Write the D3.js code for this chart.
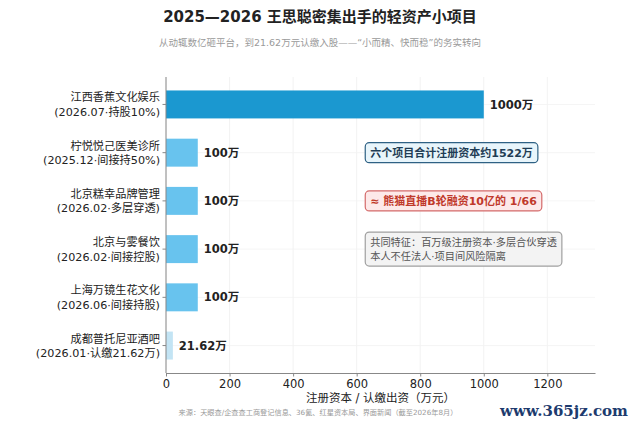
<!DOCTYPE html>
<html>
<head>
<meta charset="utf-8">
<script src="https://cdn.jsdelivr.net/npm/d3@7"></script>
<style>
  html, body { margin: 0; padding: 0; background: #fff; }
  svg text { font-family: "DejaVu Sans", "Noto Sans CJK SC", sans-serif; }
</style>
</head>
<body>
<div id="container"></div>
<script>
// data
var names = ["江西香蕉文化娱乐", "柠悦悦己医美诊所", "北京糕幸品牌管理", "北京与雾餐饮", "上海万镜生花文化", "成都普托尼亚酒吧"];
var details = ["(2026.07·持股10%)", "(2025.12·间接持50%)", "(2026.02·多层穿透)", "(2026.02·间接控股)", "(2026.06·间接持股)", "(2026.01·认缴21.62万)"];
var capital = [1000, 100, 100, 100, 100, 21.62];
var valueLabels = ["1000万", "100万", "100万", "100万", "100万", "21.62万"];
var xTicks = [0, 200, 400, 600, 800, 1000, 1200];
var notes = [
  { row: 1, lines: ["六个项目合计注册资本约1522万"], kind: "blue" },
  { row: 2, lines: ["≈ 熊猫直播B轮融资10亿的 1/66"], kind: "red" },
  { row: 3, lines: ["共同特征：百万级注册资本·多层合伙穿透", "本人不任法人·项目间风险隔离"], kind: "gray" }
];

var width = 640, height = 424;
var margin = {top: 77, right: 45, bottom: 51, left: 166};

var svg = d3.select("#container").append("svg")
    .attr("width", width)
    .attr("height", height);

var x = d3.scaleLinear()
    .domain([0, 1350])
    .range([margin.left, width - margin.right]);

// matplotlib-like barh: bars of height 0.58 with 5% margins
var barH = 0.58;
var lo = -barH / 2, hi = names.length - 1 + barH / 2, pad = (hi - lo) * 0.05;
var y = d3.scaleLinear()
    .domain([lo - pad, hi + pad])
    .range([margin.top, height - margin.bottom]);

var plotTop = margin.top, plotBottom = height - margin.bottom;

// grid
svg.append("g").selectAll("line.vg")
    .data(xTicks)
  .enter().append("line")
    .attr("x1", function(d) { return x(d); })
    .attr("x2", function(d) { return x(d); })
    .attr("y1", plotTop)
    .attr("y2", plotBottom)
    .attr("stroke", "#efefef")
    .attr("stroke-width", 0.8);

svg.append("g").selectAll("line.hg")
    .data(names)
  .enter().append("line")
    .attr("x1", x(0))
    .attr("x2", x(1350))
    .attr("y1", function(d, i) { return y(i); })
    .attr("y2", function(d, i) { return y(i); })
    .attr("stroke", "#f3f3f3")
    .attr("stroke-width", 0.8);

// bars
var barColors = ["#1b98d0", "#68c3ee", "#68c3ee", "#68c3ee", "#68c3ee", "#c3e4f4"];
svg.append("g").selectAll("rect")
    .data(capital)
  .enter().append("rect")
    .attr("x", x(0))
    .attr("y", function(d, i) { return y(i - barH / 2); })
    .attr("width", function(d) { return x(d) - x(0); })
    .attr("height", function(d, i) { return y(i + barH / 2) - y(i - barH / 2); })
    .attr("fill", function(d, i) { return barColors[i]; });

// value labels
svg.append("g").selectAll("text")
    .data(capital)
  .enter().append("text")
    .attr("x", function(d) { return x(d) + 6; })
    .attr("y", function(d, i) { return y(i); })
    .attr("dy", "0.36em")
    .attr("font-size", 11.5)
    .attr("font-weight", "bold")
    .attr("fill", "#222")
    .text(function(d, i) { return valueLabels[i]; });

// x axis
var xAxis = svg.append("g")
    .attr("transform", "translate(0," + plotBottom + ")")
    .call(d3.axisBottom(x).tickValues(xTicks).tickFormat(d3.format("d")).tickSize(3.5).tickSizeOuter(0));
xAxis.select(".domain").attr("stroke", "#888");
xAxis.selectAll(".tick line").attr("stroke", "#888");
xAxis.selectAll(".tick text")
    .attr("font-size", 11.5)
    .attr("fill", "#222")
    .style("font-family", "DejaVu Sans");

// y axis (left spine + ticks)
svg.append("line")
    .attr("x1", x(0)).attr("x2", x(0))
    .attr("y1", plotTop).attr("y2", plotBottom)
    .attr("stroke", "#888");

var yLab = svg.append("g").selectAll("g")
    .data(names)
  .enter().append("g")
    .attr("transform", function(d, i) { return "translate(0," + y(i) + ")"; });
yLab.append("line")
    .attr("x1", x(0) - 3.5).attr("x2", x(0))
    .attr("stroke", "#888");
yLab.append("text")
    .attr("x", x(0) - 6)
    .attr("y", -7)
    .attr("dy", "0.36em")
    .attr("text-anchor", "end")
    .attr("font-size", 11.2)
    .attr("fill", "#222")
    .text(function(d) { return d; });
yLab.append("text")
    .attr("x", x(0) - 6)
    .attr("y", 7.5)
    .attr("dy", "0.36em")
    .attr("text-anchor", "end")
    .attr("font-size", 11.2)
    .attr("fill", "#222")
    .text(function(d, i) { return details[i]; });

// axis label
svg.append("text")
    .attr("x", (x(0) + x(1350)) / 2)
    .attr("y", 402)
    .attr("text-anchor", "middle")
    .attr("font-size", 11.5)
    .attr("fill", "#222")
    .text("注册资本 / 认缴出资（万元）");

// note boxes
var styles = {
  blue: {fill: "#e8f5fb", stroke: "#2e6184", text: "#1f3d55", weight: "bold", size: 11},
  red:  {fill: "#fde9e9", stroke: "#d46a6a", text: "#c0392b", weight: "bold", size: 11},
  gray: {fill: "#f3f3f3", stroke: "#a0a0a0", text: "#555", weight: "normal", size: 10.2}
};
notes.forEach(function(n) {
  var s = styles[n.kind];
  var g = svg.append("g");
  var lineH = 14;
  var cy = y(n.row);
  var tx = x(627) + 5;
  var texts = n.lines.map(function(t, k) {
    return g.append("text")
      .attr("x", tx)
      .attr("y", cy + (k - (n.lines.length - 1) / 2) * lineH)
      .attr("dy", "0.36em")
      .attr("font-size", s.size)
      .attr("font-weight", s.weight)
      .attr("fill", s.text)
      .text(t);
  });
  var w = d3.max(texts, function(t) { return t.node().getComputedTextLength(); });
  var h = n.lines.length * lineH + 6;
  g.insert("rect", "text")
    .attr("x", tx - 5)
    .attr("y", cy - h / 2)
    .attr("width", w + 10)
    .attr("height", h)
    .attr("rx", 4)
    .attr("fill", s.fill)
    .attr("stroke", s.stroke)
    .attr("stroke-width", 1.2);
});

// title, subtitle, source
svg.append("text")
    .attr("x", width / 2)
    .attr("y", 22)
    .attr("text-anchor", "middle")
    .attr("font-size", 15)
    .attr("font-weight", "bold")
    .attr("fill", "#222")
    .text("2025—2026 王思聪密集出手的轻资产小项目");

svg.append("text")
    .attr("x", width / 2)
    .attr("y", 46)
    .attr("text-anchor", "middle")
    .attr("font-size", 9.5)
    .attr("fill", "#9a9a9a")
    .text("从动辄数亿砸平台，到21.62万元认缴入股——“小而精、快而稳”的务实转向");

svg.append("text")
    .attr("x", 318)
    .attr("y", 415)
    .attr("text-anchor", "middle")
    .attr("font-size", 7.2)
    .attr("fill", "#9a9a9a")
    .text("来源：天眼查/企查查工商登记信息、36氪、红星资本局、界面新闻（截至2026年8月）");

svg.append("text")
    .attr("x", 628)
    .attr("y", 416)
    .attr("text-anchor", "end")
    .attr("font-size", 15)
    .attr("font-weight", "bold")
    .attr("fill", "#1d3b6e")
    .style("font-family", "DejaVu Serif")
    .text("www.365jz.com");
</script>
</body>
</html>
